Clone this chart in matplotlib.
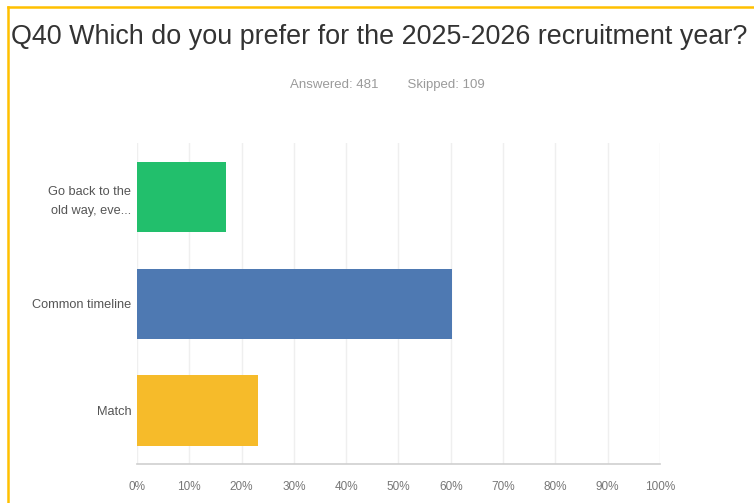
import matplotlib
matplotlib.use("Agg")
from matplotlib import pyplot as plt
from matplotlib.lines import Line2D

categories = ["Go back to the\nold way, eve...", "Common timeline", "Match"]
shares = [17.0, 60.2, 23.1]
bar_colors = ["#22bf6c", "#4e79b2", "#f6bb2a"]
tick_values = [0, 10, 20, 30, 40, 50, 60, 70, 80, 90, 100]
tick_labels = ["%d%%" % t for t in tick_values]

label_font = ["Liberation Sans", "DejaVu Sans"]

fig = plt.figure(figsize=(7.54, 5.03), dpi=100)
ax = fig.add_axes([0.1817, 0.0775, 0.6936, 0.638])

ax.barh(range(len(categories)), shares, height=0.655, color=bar_colors, zorder=3)
ax.set_xlim(0, 100)
ax.set_ylim(2.5, -0.5)

ax.set_xticks(tick_values)
ax.set_xticklabels(tick_labels, family=label_font, fontsize=8.5, color="#777777")
ax.set_yticks(range(len(categories)))
ax.set_yticklabels(categories, family=label_font, fontsize=9.2, color="#555555",
                   linespacing=1.75)
ax.tick_params(axis="both", length=0)
ax.tick_params(axis="x", pad=12)
ax.tick_params(axis="y", pad=4)

ax.grid(axis="x", color="#efefef", linewidth=1, zorder=0)
for side in ["top", "right", "left"]:
    ax.spines[side].set_visible(False)
ax.spines["bottom"].set_color("#cfcfcf")
ax.spines["bottom"].set_linewidth(1.2)

fig.text(0.503, 0.926, "Q40 Which do you prefer for the 2025-2026 recruitment year?",
         ha="center", va="center", fontsize=19.4, color="#333333",
         family=["Liberation Sans", "DejaVu Sans"])
fig.text(0.514, 0.831, "Answered: 481        Skipped: 109", ha="center", va="center",
         fontsize=9.5, color="#9a9a9a", family=label_font)

# yellow frame along the top and left edges
fig.add_artist(Line2D([0.011, 1.0], [0.987, 0.987], color="#ffc000", linewidth=1.8))
fig.add_artist(Line2D([0.011, 0.011], [0.0, 0.987], color="#ffc000", linewidth=1.8))

fig.savefig("out.png", dpi=100)
